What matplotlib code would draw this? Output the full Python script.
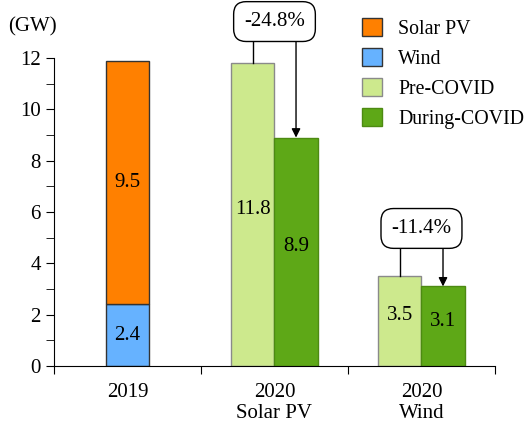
import numpy as np
import matplotlib.pyplot as plt
from matplotlib.patches import Patch

plt.rcParams['font.family'] = ['Liberation Serif', 'DejaVu Serif']

# data
categories = ["2019", "2020\nSolar PV", "2020\nWind"]
wind_2019 = 2.4
solar_2019 = 9.5
pre_covid = [11.8, 3.5]
during_covid = [8.9, 3.1]
changes = ["-24.8%", "-11.4%"]

c_solar = "#FF8000"
c_wind = "#66B2FF"
c_pre = "#CDE98D"
c_during = "#5EA817"

fig = plt.figure(figsize=(5.26, 4.26), dpi=100)
ax = fig.add_axes([0.1027, 0.1408, 0.8383, 0.723])

w = 0.293
fs = 15

# 2019 stacked bar
ax.bar(0, wind_2019, w, color=c_wind, edgecolor="#333333", linewidth=1)
ax.bar(0, solar_2019, w, bottom=wind_2019, color=c_solar, edgecolor="#333333", linewidth=1)
ax.text(0, wind_2019 / 2, f"{wind_2019}", ha="center", va="center", fontsize=fs)
ax.text(0, wind_2019 + solar_2019 / 2, f"{solar_2019}", ha="center", va="center", fontsize=fs)

# 2020 pre / during bars
xs = np.array([1, 2])
ax.bar(xs - w / 2, pre_covid, w, color=c_pre, edgecolor="#8a8a8a", linewidth=1)
ax.bar(xs + w / 2, during_covid, w, color=c_during, edgecolor="#4d8a12", linewidth=1)
for x, p, d in zip(xs, pre_covid, during_covid):
    ax.text(x - w / 2, p / 2 + 0.2, f"{p}", ha="center", va="center", fontsize=fs)
    ax.text(x + w / 2, d / 2 + 0.2, f"{d}", ha="center", va="center", fontsize=fs)

# change annotations (box centre heights)
box_y = [13.42, 5.36]
for x, p, d, lab, yb in zip(xs, pre_covid, during_covid, changes, box_y):
    ax.annotate("", xy=(x + w / 2, d), xytext=(x + w / 2, yb),
                arrowprops=dict(arrowstyle="-|>", color="black", lw=1,
                                mutation_scale=13, shrinkA=0, shrinkB=0),
                annotation_clip=False, zorder=3)
    ax.plot([x - w / 2, x - w / 2], [p, yb], color="black", lw=1, clip_on=False, zorder=3)
    ax.text(x, yb, lab, ha="center", va="center", fontsize=fs, clip_on=False, zorder=5,
            bbox=dict(boxstyle="round,pad=0.5,rounding_size=0.6", fc="white",
                      ec="black", lw=1))

# axes
ax.set_xlim(-0.5, 2.5)
ax.set_ylim(0, 12)
ax.spines["top"].set_visible(False)
ax.spines["right"].set_visible(False)
ax.set_yticks(range(0, 13, 2))
ax.set_yticks(range(1, 12, 2), minor=True)
ax.tick_params(axis="y", which="major", length=6, labelsize=fs, direction="out")
ax.tick_params(axis="y", which="minor", length=6, direction="out")
ax.set_xticks([-0.5, 0.5, 1.5, 2.5])
ax.set_xticklabels([])
ax.set_xticks([0, 1, 2], minor=True)
ax.set_xticklabels(categories, minor=True, fontsize=fs, linespacing=1.15)
ax.tick_params(axis="x", which="major", length=6, direction="out")
ax.tick_params(axis="x", which="minor", length=0, pad=12)

fig.text(0.015, 0.937, "(GW)", fontsize=fs, ha="left", va="center")

handles = [Patch(fc=c_solar, ec="#333333"), Patch(fc=c_wind, ec="#333333"),
           Patch(fc=c_pre, ec="#8a8a8a"), Patch(fc=c_during, ec="#4d8a12")]
fig.legend(handles, ["Solar PV", "Wind", "Pre-COVID", "During-COVID"],
           loc="upper left", bbox_to_anchor=(0.655, 1.0), frameon=False,
           fontsize=14.3, handlelength=1.0, handleheight=1.05, labelspacing=0.45,
           handletextpad=0.8)

fig.savefig("out.png", dpi=100)
